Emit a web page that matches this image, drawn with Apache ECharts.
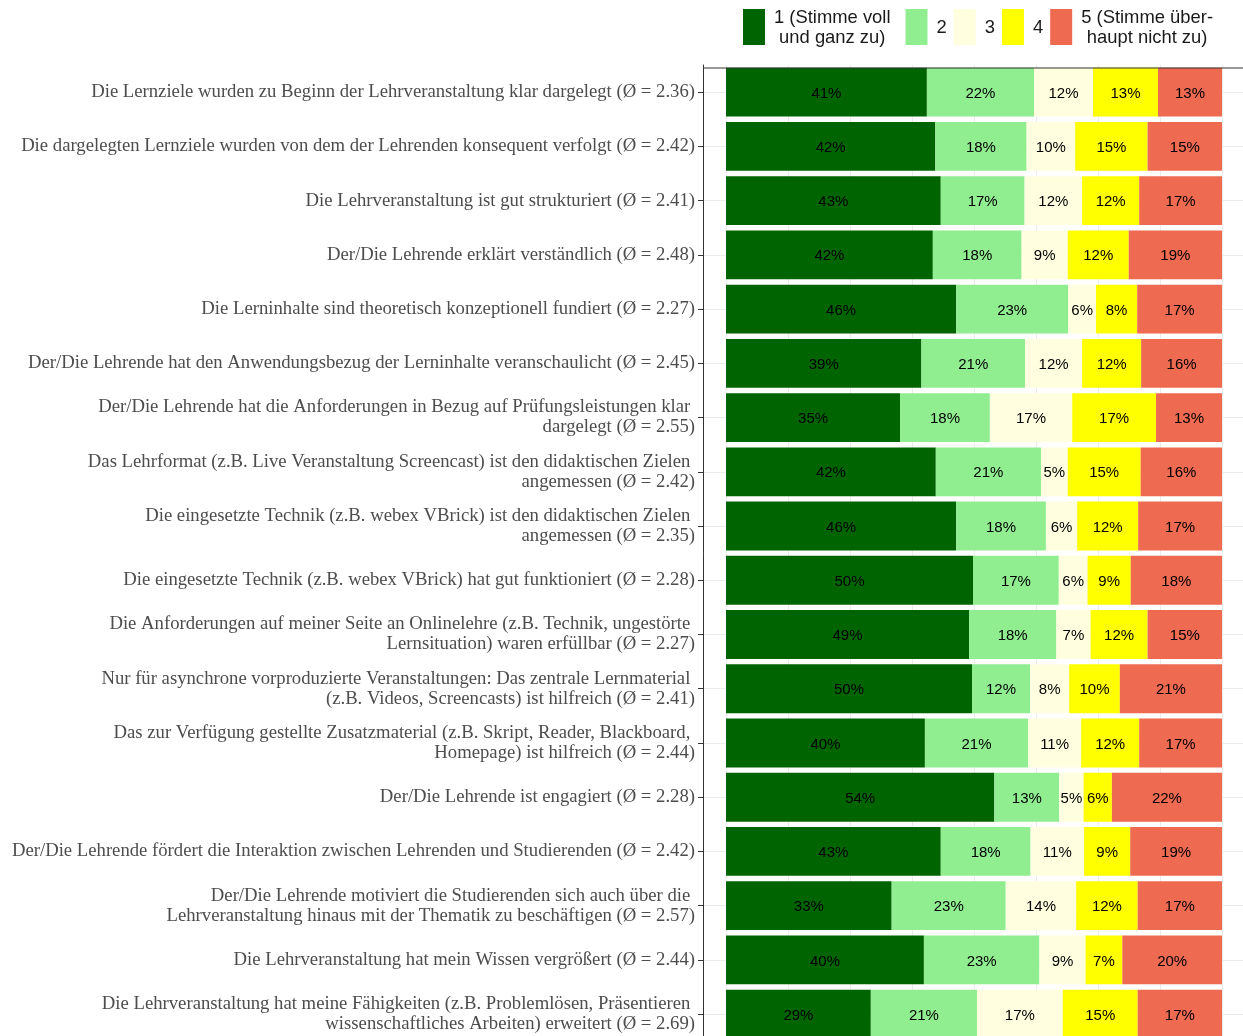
<!DOCTYPE html>
<html>
<head>
<meta charset="utf-8">
<script src="https://cdn.jsdelivr.net/npm/echarts@6/dist/echarts.min.js"></script>
<style>
  html, body { margin: 0; padding: 0; background: #fff; overflow: hidden; }
  #mychart { width: 1243px; height: 1090px; }
</style>
</head>
<body>
<div id="mychart"></div>
<script>
// Fragen (Kategorien), von oben nach unten
var cats = [
  'Die Lernziele wurden zu Beginn der Lehrveranstaltung klar dargelegt (Ø = 2.36)',
  'Die dargelegten Lernziele wurden von dem der Lehrenden konsequent verfolgt (Ø = 2.42)',
  'Die Lehrveranstaltung ist gut strukturiert (Ø = 2.41)',
  'Der/Die Lehrende erklärt verständlich (Ø = 2.48)',
  'Die Lerninhalte sind theoretisch konzeptionell fundiert (Ø = 2.27)',
  'Der/Die Lehrende hat den Anwendungsbezug der Lerninhalte veranschaulicht (Ø = 2.45)',
  'Der/Die Lehrende hat die Anforderungen in Bezug auf Prüfungsleistungen klar \ndargelegt (Ø = 2.55)',
  'Das Lehrformat (z.B. Live Veranstaltung Screencast) ist den didaktischen Zielen \nangemessen (Ø = 2.42)',
  'Die eingesetzte Technik (z.B. webex VBrick) ist den didaktischen Zielen \nangemessen (Ø = 2.35)',
  'Die eingesetzte Technik (z.B. webex VBrick) hat gut funktioniert (Ø = 2.28)',
  'Die Anforderungen auf meiner Seite an Onlinelehre (z.B. Technik, ungestörte \nLernsituation) waren erfüllbar (Ø = 2.27)',
  'Nur für asynchrone vorproduzierte Veranstaltungen: Das zentrale Lernmaterial \n(z.B. Videos, Screencasts) ist hilfreich (Ø = 2.41)',
  'Das zur Verfügung gestellte Zusatzmaterial (z.B. Skript, Reader, Blackboard, \nHomepage) ist hilfreich (Ø = 2.44)',
  'Der/Die Lehrende ist engagiert (Ø = 2.28)',
  'Der/Die Lehrende fördert die Interaktion zwischen Lehrenden und Studierenden (Ø = 2.42)',
  'Der/Die Lehrende motiviert die Studierenden sich auch über die \nLehrveranstaltung hinaus mit der Thematik zu beschäftigen (Ø = 2.57)',
  'Die Lehrveranstaltung hat mein Wissen vergrößert (Ø = 2.44)',
  'Die Lehrveranstaltung hat meine Fähigkeiten (z.B. Problemlösen, Präsentieren \nwissenschaftliches Arbeiten) erweitert (Ø = 2.69)'
];

// Antwortstufen
var levels = ['1 (Stimme voll\nund ganz zu)', '2', '3', '4', '5 (Stimme über-\nhaupt nicht zu)'];
var colors = ['#006400', '#90EE90', '#FFFFE0', '#FFFF00', '#EE6A50'];

// Anteile in % je Stufe
var v1 = [40.5, 42.2, 43.3, 41.7, 46.4, 39.4, 35.1, 42.3, 46.4, 49.8, 49.0, 49.6, 40.1, 54.1, 43.3, 33.4, 39.9, 29.2];
var v2 = [21.6, 18.4, 16.9, 17.9, 22.6, 20.9, 18.1, 21.2, 18.1, 17.3, 17.6, 11.7, 20.8, 13.1, 18.1, 23.0, 23.3, 21.4];
var v3 = [11.9, 9.8, 11.6, 9.3, 5.6, 11.5, 16.6, 5.4, 6.3, 5.8, 6.9, 7.9, 10.7, 4.9, 10.8, 14.2, 9.3, 17.3];
var v4 = [13.1, 14.6, 11.5, 12.3, 8.3, 11.9, 16.9, 14.7, 12.3, 8.7, 11.5, 10.2, 11.7, 5.7, 9.3, 12.4, 7.4, 15.1];
var v5 = [12.9, 15.0, 16.7, 18.8, 17.1, 16.3, 13.3, 16.4, 16.9, 18.4, 15.0, 20.6, 16.7, 22.2, 18.5, 17.0, 20.1, 17.0];

var values = [v1, v2, v3, v4, v5];

var barSeries = levels.map(function (name, i) {
  return {
    name: name,
    type: 'bar',
    stack: 'total',
    xAxisIndex: 1,
    yAxisIndex: 1,
    barWidth: '90%',
    z: 5,
    itemStyle: { color: colors[i] },
    label: {
      show: true,
      position: 'inside',
      offset: [0, 1.5],
      color: '#000',
      fontSize: 15,
      fontFamily: 'Liberation Sans, Arial, sans-serif',
      formatter: function (p) { return Math.round(p.value) + '%'; }
    },
    data: values[i]
  };
});

// horizontale Gitterlinien auf Höhe der Balkenmitte (über das ganze Panel)
var gridLines = {
  type: 'line',
  xAxisIndex: 0,
  yAxisIndex: 0,
  data: [],
  z: 0,
  markLine: {
    silent: true,
    z: 0,
    symbol: ['none', 'none'],
    label: { show: false },
    lineStyle: { color: '#ebebeb', type: 'solid', width: 1 },
    data: cats.map(function (c, i) { return { yAxis: i }; })
  }
};

var option = {
  animation: false,
  backgroundColor: '#fff',
  legend: {
    left: 743,
    top: 7,
    padding: 0,
    itemWidth: 22,
    itemHeight: 36,
    itemGap: 7,
    icon: 'rect',
    data: levels,
    formatter: function (name) {
      var lines = name.split('\n');
      // erster Eintrag hat etwas mehr Abstand zum naechsten
      var tail = name == levels[0] ? '{g| }' : '';
      return lines.map(function (s) { return '{c|' + s + '}' + tail; }).join('\n');
    },
    textStyle: {
      padding: [0, 0, 0, 4],
      rich: {
        c: {
          align: 'center',
          fontSize: 18.4,
          lineHeight: 20,
          padding: [2, 0, 0, 0],
          color: '#1a1a1a',
          fontFamily: 'Liberation Sans, Arial, sans-serif'
        },
        g: {
          align: 'right',
          width: 8,
          fontSize: 18.4,
          lineHeight: 20
        }
      }
    }
  },
  grid: [
    { left: 703, top: 65, width: 600, height: 976.3 },
    { left: 726, top: 65, width: 496, height: 976.3 }
  ],
  xAxis: [
    { gridIndex: 0, type: 'value', min: 0, max: 1, show: false },
    {
      gridIndex: 1,
      type: 'value',
      min: 0,
      max: 100,
      interval: 12.5,
      axisLine: { show: false },
      axisTick: { show: false },
      axisLabel: { show: false },
      splitLine: { show: true, lineStyle: { color: '#ebebeb', width: 1 } }
    }
  ],
  yAxis: [
    {
      gridIndex: 0,
      type: 'category',
      inverse: true,
      data: cats,
      axisLine: { show: true, lineStyle: { color: '#333', width: 1 } },
      axisTick: { show: true, alignWithLabel: true, length: 5, lineStyle: { color: '#333' } },
      splitLine: { show: false },
      axisLabel: {
        margin: 8,
        fontSize: 18.7,
        lineHeight: 20,
        padding: [5, 0, 0, 0],
        color: '#4d4d4d',
        align: 'right',
        fontFamily: 'Liberation Serif, Times New Roman, serif'
      }
    },
    {
      gridIndex: 1,
      type: 'category',
      inverse: true,
      data: cats,
      show: false
    }
  ],
  graphic: [
    // obere Panelkante
    {
      type: 'line',
      shape: { x1: 703, y1: 68, x2: 1243, y2: 68 },
      style: { stroke: '#333', lineWidth: 1.2 },
      z: 10
    }
  ],
  series: [gridLines].concat(barSeries)
};

var myChart = echarts.init(document.getElementById('mychart'));
myChart.setOption(option);
</script>
</body>
</html>
